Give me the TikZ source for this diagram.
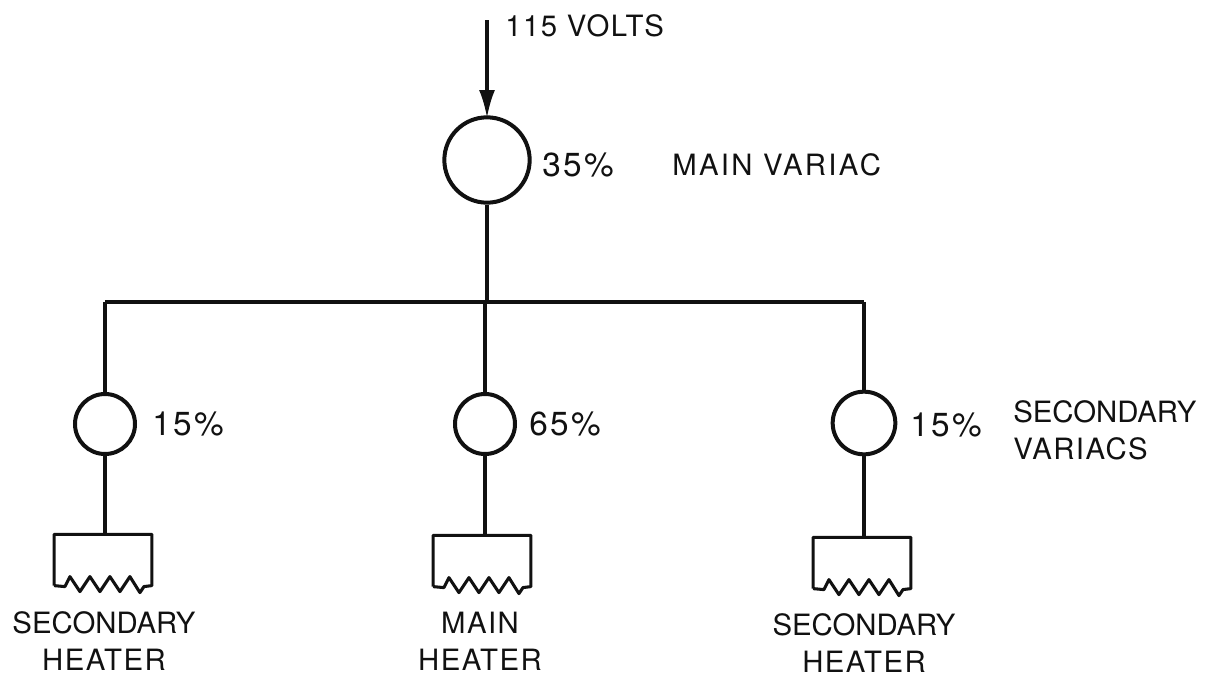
\documentclass[tikz,border=0pt]{standalone}
\usepackage{fontspec}
\setmainfont{TeX Gyre Heros}
\usepackage{xcolor}
\usetikzlibrary{positioning, arrows.meta, calc}
\definecolor{inkline}{HTML}{111111}
\newcommand{\tightset}[1]{{\addfontfeature{LetterSpace=0}#1}}
% heater: open box with a zigzag along its bottom edge
\newcommand{\heater}[3]{%
  \node[heat] (#1) at (#2,#3) {};
  \draw[wire, line join=round] (#1.south west) -- (#1.north west) -- (#1.north east) -- (#1.south east)
    -- ++(-8,1) -- ++(-4,6) -- ++(-10,-16) -- ++(-10,15) -- ++(-10,-15) -- ++(-10,15) -- ++(-10,-15) -- ++(-10,15) -- ++(-10,-15) -- ++(-5,10) -- (#1.south west);
}

\begin{document}
\begin{tikzpicture}[
  x=0.75pt, y=-0.75pt,
  wire/.style={inkline, line width=2.3pt},
  feed/.style={wire, -{Latex[length=21pt, width=12pt]}, shorten >=-2pt},
  variac/.style={circle, draw=inkline, line width=3pt, inner sep=0pt, minimum size=#1},
  heat/.style={rectangle, inner sep=0pt, minimum width=73pt, minimum height=38pt},
  lbl/.style={inkline, inner sep=0pt, font=\fontsize{22}{27.75}\selectfont\addfontfeature{LetterSpace=5}, align=center},
  lbll/.style={lbl, anchor=west, align=left},
  pct/.style={lbll, font=\fontsize{25}{27.75}\selectfont\addfontfeature{LetterSpace=7}}
]
  \useasboundingbox (0,0) rectangle (1205,678);

  \coordinate (in) at (487,20);
  \node[variac=64pt] (mainv) at (487,160) {};
  \coordinate (busm) at (487,302);
  \coordinate (busv) at (485,302);

  \node[variac=45pt] (vl) at (105,424) {};
  \node[variac=45pt] (vm) at (485,424) {};
  \node[variac=47pt] (vr) at (864,423) {};
  \coordinate (busl) at (105,302);
  \coordinate (busr) at (864,302);

  \heater{hl}{103}{560}
  \heater{hm}{482}{561}
  \heater{hr}{862}{563}

  \draw[feed] (in) -- (mainv);
  \draw[wire] (mainv) -- (busm);
  \draw[wire] (busl) -- (busr);
  \draw[wire] (busl) -- (vl);
  \draw[wire] (busv) -- (vm);
  \draw[wire] (busr) -- (vr);
  \draw[wire] (vl) -- (vl |- hl.north);
  \draw[wire] (vm) -- (vm |- hm.north);
  \draw[wire] (vr) -- (vr |- hr.north);

  \node[lbll] (volts) at (505,26) {115 VOLTS};
  \node[pct] (pmain) at (542,165) {35\%};
  \node[lbll, font=\fontsize{22}{27.75}\selectfont\addfontfeature{LetterSpace=8}] (tmain) at (672,165) {MAIN VARIAC};
  \node[pct] (pl) at (152,424) {15\%};
  \node[pct] (pm) at (529,424) {65\%};
  \node[pct] (pr) at (910,425) {15\%};
  \node[lbll] (tsec) at (1013,430) {\tightset{SECONDARY}\\VARIACS};
  \node[lbl] (tl) at (104,641) {\tightset{SECONDARY}\\HEATER};
  \node[lbl] (tm) at (480,641) {MAIN\\HEATER};
  \node[lbl] (tr) at (864,643) {\tightset{SECONDARY}\\HEATER};
\end{tikzpicture}
\end{document}
